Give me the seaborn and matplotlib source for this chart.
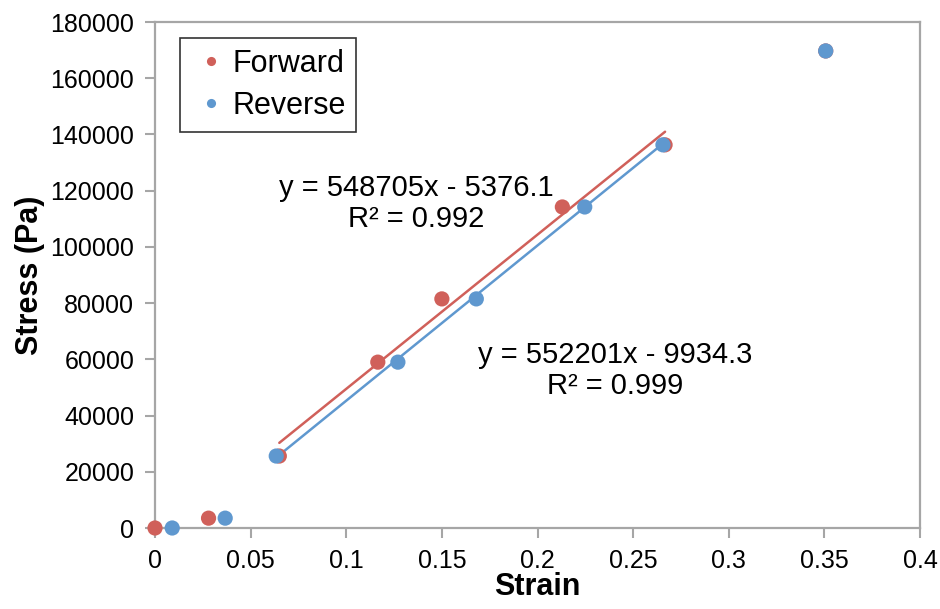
import numpy as np
import pandas as pd
import matplotlib
matplotlib.use("Agg")
import matplotlib.pyplot as plt
import seaborn as sns

# values
fwd_strain = [0.0, 0.028, 0.065, 0.1165, 0.150, 0.213, 0.2667, 0.3507]
fwd_stress = [0, 3500, 25600, 59000, 81500, 114200, 136300, 169700]
rev_strain = [0.009, 0.0367, 0.0634, 0.127, 0.168, 0.2247, 0.2656, 0.3507]
rev_stress = [0, 3500, 25600, 59000, 81500, 114200, 136300, 169700]

# trendline coefficients shown on the chart
fwd_fit = (548705, -5376.1)
rev_fit = (552201, -9934.3)
fwd_label = "y = 548705x - 5376.1\nR² = 0.992"
rev_label = "y = 552201x - 9934.3\nR² = 0.999"

red = "#D0605A"
blue = "#5F98CF"
grey = "#A6A6A6"

sns.set_style("white")
plt.rcParams["font.family"] = ["Liberation Sans", "DejaVu Sans"]
plt.rcParams["text.color"] = "black"
plt.rcParams["axes.labelcolor"] = "black"
plt.rcParams["xtick.color"] = "black"
plt.rcParams["ytick.color"] = "black"

df = pd.DataFrame({
    "Strain": fwd_strain + rev_strain,
    "Stress": fwd_stress + rev_stress,
    "Series": ["Forward"] * len(fwd_strain) + ["Reverse"] * len(rev_strain),
})

fig = plt.figure(figsize=(9.4, 6.09), dpi=100)
ax = fig.add_axes([155 / 940, 1 - 528 / 609, 765 / 940, 506 / 609])

sns.scatterplot(data=df, x="Strain", y="Stress", hue="Series",
                palette={"Forward": red, "Reverse": blue}, s=120,
                edgecolor="none", ax=ax, zorder=3, clip_on=False)

# trendlines over the fitted points (index 2..6)
for xs, fit, col in [(fwd_strain, fwd_fit, red), (rev_strain, rev_fit, blue)]:
    xr = np.array([xs[2], xs[6]])
    sns.lineplot(x=xr, y=fit[0] * xr + fit[1], color=col, lw=1.8, ax=ax, zorder=2)

ax.text(0.1365, 115500, fwd_label, ha="center", va="center",
        multialignment="center", fontsize=21, linespacing=1.15)
ax.text(0.2404, 56000, rev_label, ha="center", va="center",
        multialignment="center", fontsize=21, linespacing=1.15)

ax.set_xlim(0, 0.4)
ax.set_ylim(0, 180000)
ax.set_xticks(np.arange(0, 0.401, 0.05))
ax.set_xticklabels(["0", "0.05", "0.1", "0.15", "0.2", "0.25", "0.3", "0.35", "0.4"])
ax.set_yticks(np.arange(0, 180001, 20000))
ax.set_yticklabels([str(v) for v in range(0, 180001, 20000)])
ax.tick_params(axis="both", labelsize=18, length=7, width=1.5, color=grey,
               direction="out", bottom=True, left=True)
ax.tick_params(axis="x", pad=8)
ax.tick_params(axis="y", pad=8)
for side in ["top", "right", "left", "bottom"]:
    ax.spines[side].set_visible(True)
    ax.spines[side].set_color(grey)
    ax.spines[side].set_linewidth(1.6)

ax.set_xlabel("Strain", fontsize=22, fontweight="bold")
ax.xaxis.set_label_coords(0.5, -0.087)
ax.set_ylabel("Stress (Pa)", fontsize=22, fontweight="bold", labelpad=4)

leg = ax.legend(loc="upper left", bbox_to_anchor=(0.033, 0.968), fontsize=22,
                frameon=True, fancybox=False, edgecolor="black", markerscale=0.6,
                handletextpad=0.05, borderpad=0.35, labelspacing=0.4,
                handlelength=1.3, borderaxespad=0)
leg.get_frame().set_linewidth(1.2)
leg.set_title(None)

fig.savefig("out.png", dpi=100)
